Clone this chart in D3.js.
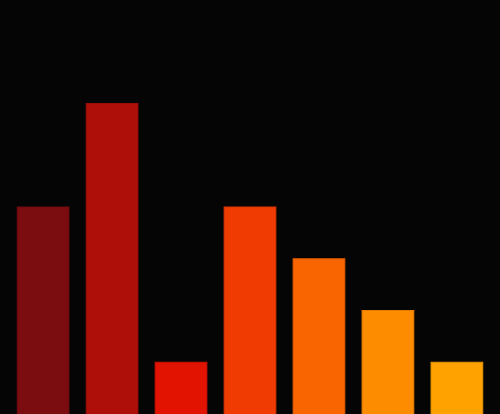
<!DOCTYPE html>
<html><head><meta charset="utf-8">
<script src="https://cdn.jsdelivr.net/npm/d3@7"></script>
<style>html,body{margin:0;padding:0;background:#050506;overflow:hidden}</style>
</head><body>
<svg id="c" width="500" height="414"></svg>
<script>
const categories = ["A","B","C","D","E","F","G"];
const values = [4, 6, 1, 4, 3, 2, 1];
const colors = ["#7b0c10","#ae0f08","#e21300","#f03c02","#f96500","#fe8c00","#ffa200"];
const W = 500, H = 414;
const svg = d3.select("#c");
svg.append("rect").attr("width", W).attr("height", H).attr("fill", "#050506");
const x = d3.scaleBand().domain(categories).range([0, W]).padding(0.25);
const y = d3.scaleLinear().domain([0, 8]).range([H, 0]);
svg.selectAll("rect.bar").data(values).join("rect")
  .attr("class","bar")
  .attr("x", (d,i) => x(categories[i]))
  .attr("y", d => y(d))
  .attr("width", x.bandwidth())
  .attr("height", d => H - y(d) + 2)
  .attr("fill", (d,i) => colors[i])
  .attr("stroke", (d,i) => d3.color(colors[i]).darker(0.3))
  .attr("stroke-width", 1);
</script>
</body></html>
